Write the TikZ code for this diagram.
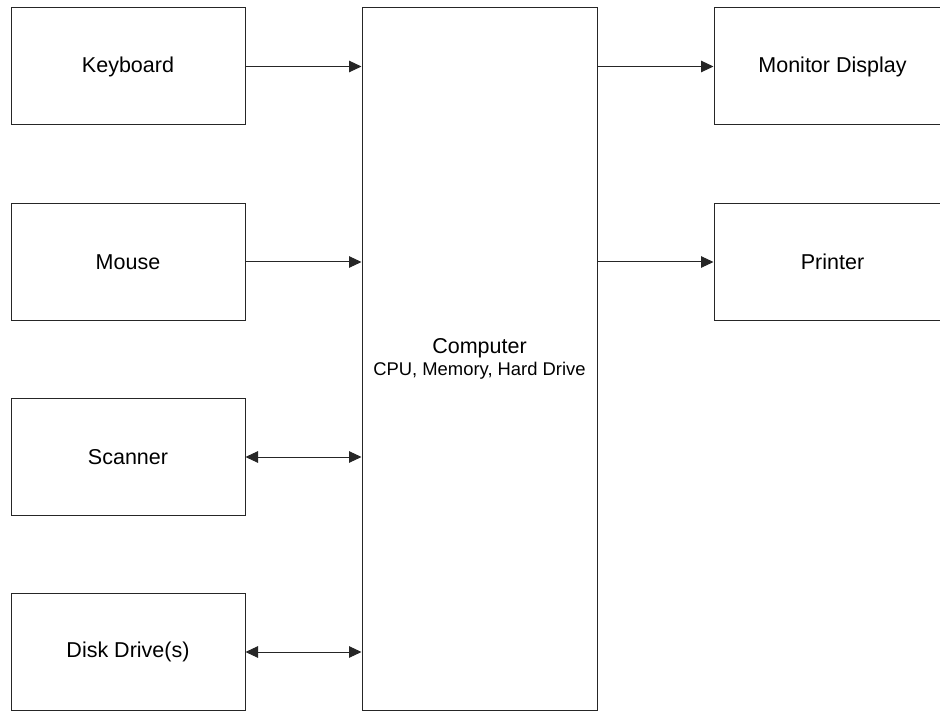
\documentclass[tikz,border=0pt]{standalone}
\usepackage{fontspec}
\setmainfont{Liberation Sans}
\usetikzlibrary{arrows.meta}
\begin{document}
\begin{tikzpicture}[x=1pt,y=-1pt,
  blk/.style={draw=black!85,line width=1pt,fill=white,inner sep=0pt,
    font=\fontsize{21.5}{22}\selectfont},
  lbl/.style={font=\fontsize{21.5}{22}\selectfont},
  tip/.style={Triangle[length=12.5pt,width=11.5pt]},
  conn/.style={draw=black!85,line width=1pt,-{Triangle[length=12.5pt,width=11.5pt]}},
  biconn/.style={draw=black!85,line width=1pt,{Triangle[length=12.5pt,width=11.5pt]}-{Triangle[length=12.5pt,width=11.5pt]}}]
\useasboundingbox (0,0) rectangle (940,711);
\path[fill=white] (0,0) rectangle (940,711);
\node[blk,minimum width=234pt,minimum height=117pt] (kb) at (128,66.5) {Keyboard};
\node[blk,minimum width=234pt,minimum height=117pt] (ms) at (128,262) {Mouse};
\node[blk,minimum width=234pt,minimum height=117pt] (sc) at (128,457) {Scanner};
\node[blk,minimum width=234pt,minimum height=117pt] (dd) at (128,652) {Disk Drive(s)};
\node[blk,minimum width=235pt,minimum height=702pt,align=center] (pc) at (479.5,359)
  {Computer\\{\fontsize{18.4}{22}\selectfont CPU, Memory, Hard Drive}};
\node[blk,minimum width=238pt,minimum height=117pt] (mon) at (833,66.5) {};
\node[lbl] (monl) at (832.5,66.5) {Monitor Display};
\node[blk,minimum width=238pt,minimum height=117pt] (pr) at (833,262) {};
\node[lbl] (prl) at (832.5,262) {Printer};
\draw[conn] (kb.east) -- (kb.east -| pc.west);
\draw[conn] (ms.east) -- (ms.east -| pc.west);
\draw[biconn] (sc.east) -- (sc.east -| pc.west);
\draw[biconn] (dd.east) -- (dd.east -| pc.west);
\draw[conn] (mon.west -| pc.east) -- (mon.west);
\draw[conn] (pr.west -| pc.east) -- (pr.west);
\end{tikzpicture}
\end{document}
